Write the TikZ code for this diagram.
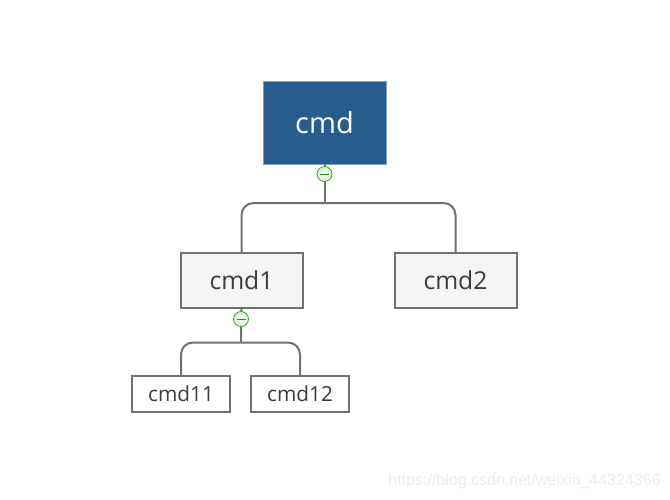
\documentclass[tikz,border=0pt]{standalone}
\usepackage{fontspec}
\setmainfont{Open Sans}
\newfontfamily\wmfont{Liberation Sans}
\definecolor{rootblue}{HTML}{285C8E}
\definecolor{rootedge}{HTML}{7F9FBE}
\definecolor{linegray}{HTML}{707070}
\definecolor{boxfill}{HTML}{F5F5F5}
\definecolor{txtdark}{HTML}{3C3C3C}
\definecolor{togglegreen}{HTML}{2FB01E}
\definecolor{wmgray}{HTML}{EDEDED}
\tikzset{
  x=1pt,y=1pt,
  rootbox/.style={draw=rootedge,line width=0.8pt,fill=rootblue,text=white,minimum width=123pt,minimum height=83pt,inner sep=0pt,font=\fontsize{29}{32}\selectfont},
  midbox/.style={draw=linegray,line width=2pt,fill=boxfill,text=txtdark,minimum width=122pt,minimum height=55pt,inner sep=0pt,font=\fontsize{24.7}{27}\selectfont},
  leafbox/.style={draw=linegray,line width=2pt,fill=white,text=txtdark,minimum width=98pt,minimum height=36pt,inner sep=0pt,font=\fontsize{20.8}{23}\selectfont},
  conn/.style={draw=linegray,line width=2pt,rounded corners=12pt},
  toggle/.style={circle,draw=togglegreen,line width=0.8pt,inner color=white,outer color=boxfill!85!togglegreen,minimum size=15pt,inner sep=0pt,
    path picture={\draw[togglegreen!80!black,line width=1pt] ([xshift=-4.5pt]path picture bounding box.center) -- ([xshift=4.5pt]path picture bounding box.center);}},
  wmark/.style={text=wmgray,inner sep=0pt,font=\wmfont\fontsize{16}{18}\selectfont}
}
\begin{document}
\begin{tikzpicture}
\useasboundingbox (0,0) rectangle (670,-499);
\node[rootbox] (cmd) at (324.5,-122.5) {cmd};
\node[midbox] (cmd1) at (241.5,-280.5) {cmd1};
\node[midbox] (cmd2) at (455.5,-280.5) {cmd2};
\node[leafbox] (cmd11) at (181,-394) {cmd11};
\node[leafbox] (cmd12) at (300,-394) {cmd12};
\coordinate (busA) at (324.5,-203);
\coordinate (busB) at (241,-342.5);
\draw[conn] (cmd.south) -- (busA);
\draw[conn] (cmd1.north) |- (busA) -| (cmd2.north);
\draw[conn] (cmd1.south) -- (busB);
\draw[conn] (cmd11.north) |- (busB) -| (cmd12.north);
\node[toggle] (t1) at (324.5,-174) {};
\node[toggle] (t2) at (241,-319) {};
\node[wmark] (wm) at (524.5,-481) {https://blog.csdn.net/weixin\_44324366};
\end{tikzpicture}
\end{document}
